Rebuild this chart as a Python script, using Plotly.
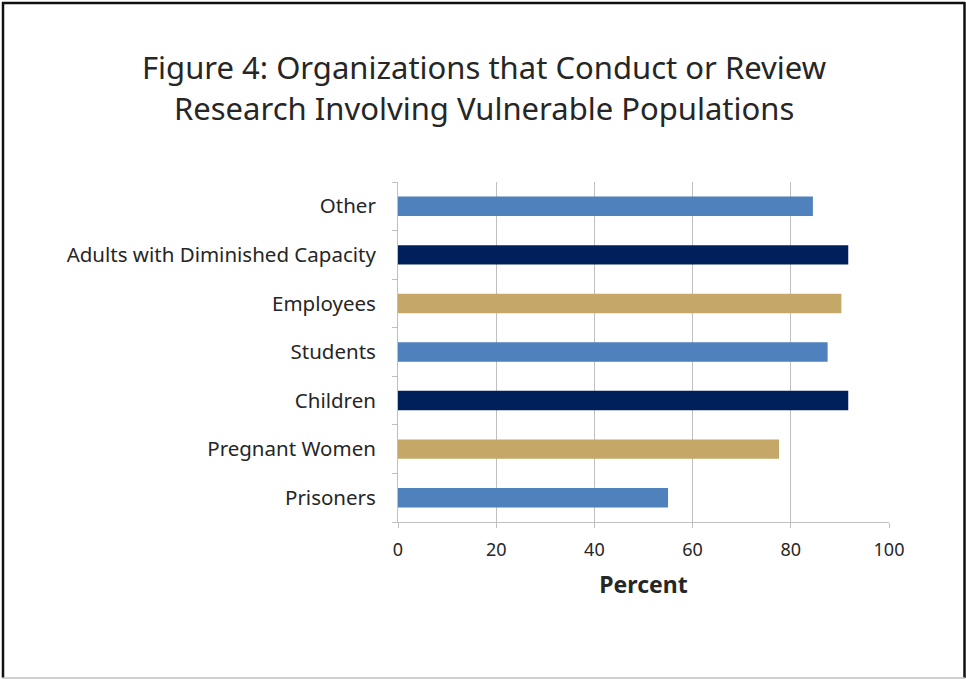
import plotly.graph_objects as go

categories = ["Prisoners", "Pregnant Women", "Children", "Students", "Employees",
              "Adults with Diminished Capacity", "Other"]
values = [55.0, 77.6, 91.7, 87.5, 90.3, 91.7, 84.5]
bar_colors = ["#4F81BD", "#C5A768", "#00205C", "#4F81BD", "#C5A768", "#00205C", "#4F81BD"]
x_ticks = [0, 20, 40, 60, 80, 100]
title_lines = ["Figure 4: Organizations that Conduct or Review",
               "Research Involving Vulnerable Populations"]

W, H = 966, 679
L, R, T, B = 398, 77, 182, 157
pw, ph = W - L - R, H - T - B

def px_x(p):
    return (p - L) / pw

def px_y(p):
    return (H - B - p) / ph

fig = go.Figure(go.Bar(
    y=categories, x=values, orientation="h",
    marker=dict(color=bar_colors, line=dict(width=0)),
    hoverinfo="x+y",
))

font_family = "Noto Sans, Open Sans, Liberation Sans, sans-serif"
txt = "#262626"
fig.update_layout(
    width=W, height=H,
    margin=dict(l=L, r=R, t=T, b=B),
    paper_bgcolor="white", plot_bgcolor="white",
    bargap=0.6,
    showlegend=False,
    font=dict(family=font_family, color=txt),
    xaxis=dict(
        range=[0, 100], tickvals=x_ticks, ticktext=[str(v) for v in x_ticks],
        showgrid=True, gridcolor="#BFBFBF", gridwidth=1,
        showline=True, linecolor="#BFBFBF", linewidth=1,
        ticks="outside", ticklen=5, tickcolor="#BFBFBF",
        tickfont=dict(size=18, color=txt),
        ticklabelstandoff=6,
        title=dict(text="<b>Percent</b>", font=dict(size=23, color=txt), standoff=17),
        zeroline=False, fixedrange=True,
    ),
    yaxis=dict(
        categoryorder="array", categoryarray=categories,
        showline=True, linecolor="#BFBFBF", linewidth=1,
        ticks="outside", ticklen=5, tickcolor="#BFBFBF", tickson="boundaries",
        tickfont=dict(size=20.5, color=txt),
        ticklabelstandoff=17,
        showgrid=False, fixedrange=True,
    ),
    annotations=[
        dict(text=title_lines[0], xref="paper", yref="paper", x=px_x(484), y=px_y(67),
             xanchor="center", yanchor="middle", showarrow=False,
             font=dict(size=31, color=txt, family=font_family)),
        dict(text=title_lines[1], xref="paper", yref="paper", x=px_x(484), y=px_y(108),
             xanchor="center", yanchor="middle", showarrow=False,
             font=dict(size=31, color=txt, family=font_family)),
    ],
    shapes=[
        dict(type="line", xref="paper", yref="paper", x0=px_x(3), x1=px_x(3),
             y0=px_y(2), y1=px_y(678), line=dict(color="#111111", width=2.5)),
        dict(type="line", xref="paper", yref="paper", x0=px_x(2), x1=px_x(965),
             y0=px_y(3), y1=px_y(3), line=dict(color="#111111", width=2.5)),
        dict(type="line", xref="paper", yref="paper", x0=px_x(964.5), x1=px_x(964.5),
             y0=px_y(2), y1=px_y(678), line=dict(color="#111111", width=2.5)),
        dict(type="line", xref="paper", yref="paper", x0=px_x(2), x1=px_x(965),
             y0=px_y(678), y1=px_y(678), line=dict(color="#BFBFBF", width=1.5)),
    ],
)

fig.write_html("out.html", config={"displayModeBar": False},
               post_script="document.body.style.margin='0';")
